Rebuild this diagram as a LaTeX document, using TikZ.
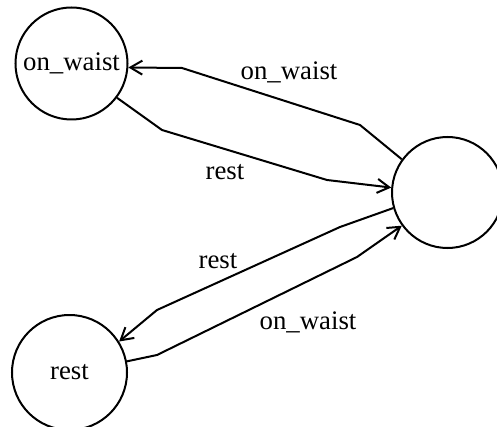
\documentclass[tikz,border=0pt]{standalone}
\usepackage{fontspec}
\setmainfont{Liberation Serif}
\usetikzlibrary{arrows.meta}
\tikzset{
  state/.style={draw, circle, line width=1pt, inner sep=0pt, minimum size=56pt},
  trans/.style={line width=1pt, -{Straight Barb[length=6pt,width=7pt]}},
  lbl/.style={inner sep=0pt, font=\fontsize{13.4}{16}\selectfont}
}
\begin{document}
\begin{tikzpicture}[x=0.5pt, y=-0.5pt]
\useasboundingbox (0,0) rectangle (497,427);
\clip (0,0) rectangle (497,427);
\node[state] (waist) at (71.5,63.5) {\fontsize{13.4}{16}\selectfont on\_waist};
\node[state, minimum size=55.5pt] (hub) at (447.5,192.5) {};
\node[state, minimum size=57.5pt] (rest) at (69.5,372.5) {\fontsize{13.4}{16}\selectfont rest};
% transitions, each with its bends
\draw[trans] (hub.144) -- (360,125) -- (182,68) -- (waist.-4.5);
\draw[trans] (waist.-37) -- (162,130) -- (327,180) -- (hub.175.5);
\draw[trans] (hub.196) -- (340,227) -- (157,310) -- (rest.32);
\draw[trans] (rest.11) -- (157,355) -- (357,257) -- (hub.216.5);
\node[lbl] (l1) at (289,72) {on\_waist};
\node[lbl] (l2) at (225,172) {rest};
\node[lbl] (l3) at (218,261) {rest};
\node[lbl] (l4) at (308,322) {on\_waist};
\end{tikzpicture}
\end{document}
